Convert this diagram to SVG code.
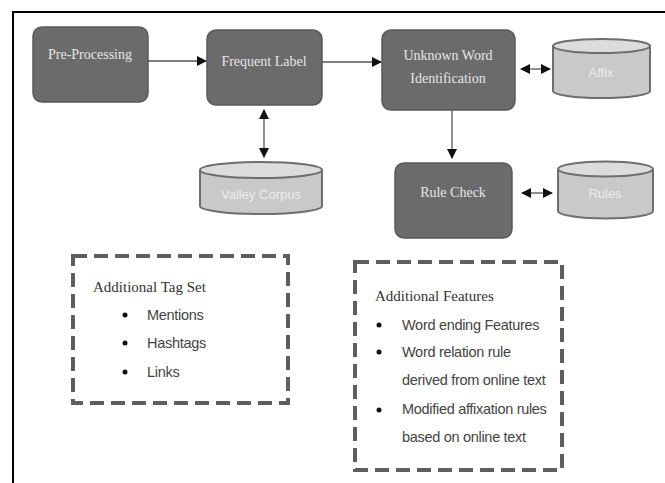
<svg xmlns="http://www.w3.org/2000/svg" width="665" height="483" viewBox="0 0 665 483">
<style>
.node{fill:#6b6b6b;stroke:#5a5a5a;stroke-width:1.5}
.nt{font-family:"Liberation Serif",serif;font-size:14px;fill:#e6e6e6;text-anchor:middle}
.cyl{fill:#c9c9c9;stroke:#6e6e6e;stroke-width:2}
.cyltop{fill:#dcdcdc;stroke:#6e6e6e;stroke-width:2}
.ct{font-family:"Liberation Sans",sans-serif;font-size:13px;fill:#ececec;text-anchor:middle}
.conn{stroke:#555;stroke-width:1.3;fill:none}
.dash{fill:none;stroke:#5e5e5e;stroke-width:4;stroke-dasharray:14 7}
.hd{font-family:"Liberation Serif",serif;font-size:15px;fill:#333}
.bl{font-family:"Liberation Sans",sans-serif;font-size:14.5px;fill:#444;letter-spacing:-0.3px}
.dot{fill:#111}
</style>
<defs>
<marker id="ah" viewBox="0 0 10 10" refX="9" refY="5" markerWidth="10" markerHeight="10" markerUnits="userSpaceOnUse" orient="auto-start-reverse">
<path d="M0,0 L10,5 L0,10 z" fill="#111"/>
</marker>
</defs>
<rect width="665" height="483" fill="#fff"/>
<path d="M13,483 V12 H665" fill="none" stroke="#000" stroke-width="2"/>

<g id="connectors">
<line class="conn" x1="148" y1="61" x2="206" y2="61" marker-end="url(#ah)"/>
<line class="conn" x1="322" y1="62" x2="381" y2="62" marker-end="url(#ah)"/>
<line class="conn" x1="521" y1="69" x2="550" y2="69" marker-start="url(#ah)" marker-end="url(#ah)"/>
<line class="conn" x1="452" y1="110" x2="452" y2="158" marker-end="url(#ah)"/>
<line class="conn" x1="522" y1="193" x2="552" y2="193" marker-start="url(#ah)" marker-end="url(#ah)"/>
<line class="conn" x1="264" y1="110" x2="264" y2="157" marker-start="url(#ah)" marker-end="url(#ah)"/>
</g>

<g id="pre-processing">
<rect class="node" x="33" y="27" width="115" height="75" rx="9"/>
<text class="nt" x="90" y="59">Pre-Processing</text>
</g>
<g id="frequent-label">
<rect class="node" x="207" y="30" width="115" height="75" rx="9"/>
<text class="nt" x="264" y="66">Frequent Label</text>
</g>
<g id="unknown-word">
<rect class="node" x="382" y="30" width="133" height="80" rx="9"/>
<text class="nt" x="448" y="60">Unknown Word</text>
<text class="nt" x="448" y="83">Identification</text>
</g>
<g id="affix">
<path class="cyl" d="M553,46 V91 A48.5,7 0 0 0 650,91 V46"/>
<ellipse class="cyltop" cx="601.5" cy="46" rx="48.5" ry="7"/>
<text class="ct" x="601" y="77">Affix</text>
</g>
<g id="rule-check">
<rect class="node" x="395" y="163" width="117" height="75" rx="9"/>
<text class="nt" x="453" y="197">Rule Check</text>
</g>
<g id="rules">
<path class="cyl" d="M558,169 V211 A47.5,7.5 0 0 0 653,211 V169"/>
<ellipse class="cyltop" cx="605.5" cy="169" rx="47.5" ry="7.5"/>
<text class="ct" x="605" y="198">Rules</text>
</g>
<g id="valley-corpus">
<path class="cyl" d="M200,170 V206 A61,8 0 0 0 322,206 V170"/>
<ellipse class="cyltop" cx="261" cy="170" rx="61" ry="8"/>
<text class="ct" x="261" y="199">Valley Corpus</text>
</g>

<g id="additional-tag-set">
<rect class="dash" x="73" y="256" width="215" height="147"/>
<text class="hd" x="93" y="292">Additional Tag Set</text>
<circle class="dot" cx="125" cy="315" r="2.5"/>
<text class="bl" x="147" y="320">Mentions</text>
<circle class="dot" cx="125" cy="343" r="2.5"/>
<text class="bl" x="147" y="348">Hashtags</text>
<circle class="dot" cx="125" cy="372" r="2.5"/>
<text class="bl" x="147" y="377">Links</text>
</g>

<g id="additional-features">
<rect class="dash" x="355" y="262" width="207" height="208"/>
<text class="hd" x="375" y="301">Additional Features</text>
<circle class="dot" cx="379" cy="325" r="2.5"/>
<text class="bl" x="402" y="330">Word ending Features</text>
<circle class="dot" cx="379" cy="352" r="2.5"/>
<text class="bl" x="402" y="357">Word relation rule</text>
<text class="bl" x="402" y="385">derived from online text</text>
<circle class="dot" cx="379" cy="410" r="2.5"/>
<text class="bl" x="402" y="414">Modified affixation rules</text>
<text class="bl" x="402" y="442">based on online text</text>
</g>
</svg>
